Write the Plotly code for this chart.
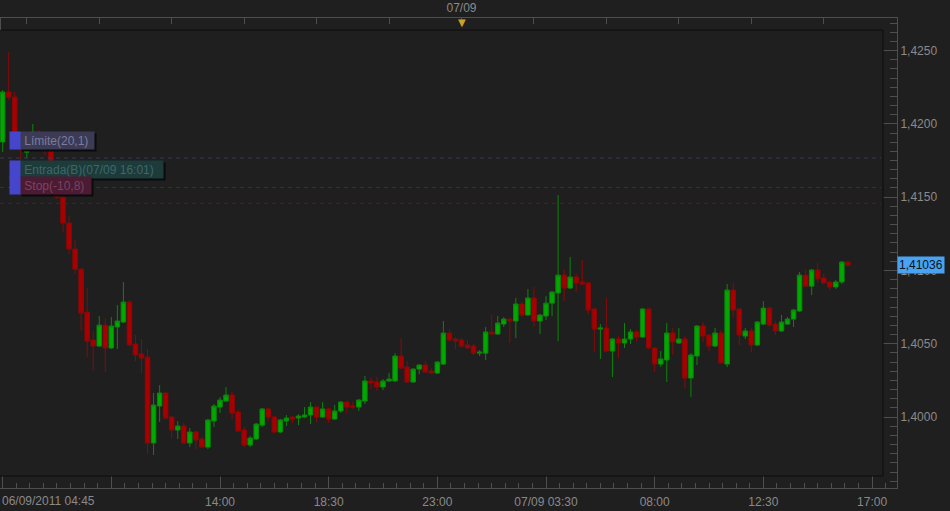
import pandas as pd
import plotly.graph_objects as go

# ---- data (15 min candles) ----
times = pd.date_range("2011-09-06 05:00", periods=141, freq="15min")

open_ = [1.41876,1.42217,1.42182,1.41903,1.41807,1.41876,1.41944,1.41855,1.41821,1.41719,
         1.41500,1.41323,1.41146,1.41009,1.40716,1.40525,1.40484,1.40627,1.40471,1.40614,
         1.40648,1.40784,1.40498,1.40430,1.40409,1.39823,1.40075,1.40164,1.40000,1.39911,
         1.39939,1.39823,1.39898,1.39850,1.39795,1.39973,1.40068,1.40109,1.40150,1.40034,
         1.39911,1.39809,1.39850,1.39945,1.40055,1.40000,1.39898,1.39973,1.40000,1.39993,
         1.40000,1.40014,1.40068,1.40000,1.40055,1.39986,1.40041,1.40102,1.40075,1.40068,
         1.40109,1.40246,1.40239,1.40205,1.40246,1.40246,1.40416,1.40341,1.40239,1.40327,
         1.40355,1.40314,1.40300,1.40361,1.40573,1.40532,1.40525,1.40491,1.40484,1.40436,
         1.40436,1.40580,1.40566,1.40634,1.40668,1.40655,1.40771,1.40696,1.40812,1.40655,
         1.40689,1.40777,1.40846,1.40968,1.40880,1.40955,1.40921,1.40914,1.40737,1.40600,
         1.40607,1.40450,1.40532,1.40505,1.40532,1.40580,1.40546,1.40737,1.40471,1.40361,
         1.40389,1.40573,1.40505,1.40532,1.40266,1.40416,1.40621,1.40559,1.40484,1.40573,
         1.40361,1.40866,1.40737,1.40552,1.40587,1.40491,1.40634,1.40743,1.40634,1.40587,
         1.40634,1.40668,1.40723,1.40968,1.40893,1.41003,1.40948,1.40921,1.40887,1.40921,
         1.41057]

high = [1.42230,1.42489,1.42217,1.41937,1.41910,1.41998,1.41957,1.41889,1.41855,1.41739,
        1.41514,1.41371,1.41207,1.41016,1.40880,1.40587,1.40689,1.40675,1.40682,1.40764,
        1.40921,1.40798,1.40559,1.40532,1.40464,1.40164,1.40218,1.40171,1.40007,1.39973,
        1.39959,1.39925,1.39905,1.39864,1.39986,1.40089,1.40136,1.40205,1.40171,1.40048,
        1.39932,1.39870,1.39959,1.40061,1.40061,1.40007,1.39986,1.40014,1.40007,1.40020,
        1.40068,1.40102,1.40075,1.40102,1.40061,1.40082,1.40109,1.40109,1.40102,1.40123,
        1.40280,1.40273,1.40273,1.40259,1.40300,1.40436,1.40539,1.40382,1.40334,1.40361,
        1.40382,1.40334,1.40382,1.40655,1.40600,1.40546,1.40539,1.40525,1.40498,1.40457,
        1.40614,1.40696,1.40689,1.40682,1.40675,1.40812,1.40791,1.40873,1.40887,1.40702,
        1.40825,1.40859,1.41514,1.41003,1.41091,1.40975,1.41071,1.40921,1.40743,1.40634,
        1.40812,1.40539,1.40552,1.40641,1.40600,1.40593,1.40743,1.40743,1.40477,1.40450,
        1.40641,1.40607,1.40607,1.40552,1.40436,1.40627,1.40648,1.40566,1.40607,1.40593,
        1.40907,1.40914,1.40743,1.40607,1.40607,1.40655,1.40791,1.40750,1.40655,1.40696,
        1.40682,1.40737,1.40989,1.41009,1.41009,1.41050,1.40975,1.40928,1.40934,1.41064,
        1.41064]

low = [1.41807,1.42162,1.41889,1.41753,1.41766,1.41855,1.41821,1.41787,1.41719,1.41487,
       1.41262,1.41112,1.40975,1.40587,1.40409,1.40314,1.40477,1.40307,1.40464,1.40464,
       1.40641,1.40484,1.40382,1.40300,1.39748,1.39741,1.39966,1.39980,1.39857,1.39850,
       1.39816,1.39795,1.39782,1.39789,1.39782,1.39932,1.40027,1.40102,1.39986,1.39898,
       1.39795,1.39795,1.39843,1.39932,1.39973,1.39891,1.39891,1.39939,1.39959,1.39945,
       1.39993,1.39952,1.39966,1.39993,1.39959,1.39980,1.40027,1.40027,1.40055,1.40041,
       1.40089,1.40191,1.40177,1.40184,1.40239,1.40239,1.40327,1.40232,1.40232,1.40293,
       1.40300,1.40293,1.40293,1.40355,1.40512,1.40464,1.40471,1.40464,1.40423,1.40416,
       1.40389,1.40559,1.40559,1.40614,1.40505,1.40539,1.40682,1.40689,1.40614,1.40566,
       1.40662,1.40689,1.40518,1.40791,1.40873,1.40853,1.40900,1.40702,1.40443,1.40396,
       1.40443,1.40273,1.40402,1.40471,1.40498,1.40518,1.40539,1.40464,1.40307,1.40341,
       1.40239,1.40423,1.40498,1.40198,1.40136,1.40355,1.40512,1.40450,1.40477,1.40361,
       1.40341,1.40682,1.40491,1.40532,1.40443,1.40484,1.40627,1.40614,1.40559,1.40580,
       1.40627,1.40614,1.40716,1.40887,1.40832,1.40914,1.40907,1.40866,1.40873,1.40907,
       1.41030]

close = [1.42217,1.42182,1.41923,1.41835,1.41889,1.41944,1.41855,1.41821,1.41739,1.41500,
         1.41323,1.41146,1.41009,1.40709,1.40518,1.40484,1.40627,1.40471,1.40621,1.40655,
         1.40784,1.40491,1.40423,1.40402,1.39823,1.40082,1.40164,1.39993,1.39911,1.39939,
         1.39823,1.39898,1.39843,1.39795,1.39980,1.40075,1.40116,1.40150,1.40027,1.39905,
         1.39809,1.39857,1.39952,1.40055,1.40000,1.39898,1.39980,1.39993,1.39986,1.40007,
         1.40014,1.40068,1.40000,1.40055,1.39986,1.40041,1.40102,1.40068,1.40068,1.40116,
         1.40246,1.40232,1.40205,1.40246,1.40259,1.40416,1.40334,1.40239,1.40327,1.40355,
         1.40307,1.40300,1.40375,1.40573,1.40525,1.40518,1.40484,1.40471,1.40436,1.40443,
         1.40580,1.40566,1.40641,1.40668,1.40655,1.40771,1.40696,1.40812,1.40655,1.40696,
         1.40777,1.40853,1.40968,1.40880,1.40955,1.40914,1.40907,1.40730,1.40600,1.40607,
         1.40450,1.40532,1.40505,1.40532,1.40580,1.40546,1.40737,1.40471,1.40361,1.40396,
         1.40573,1.40512,1.40532,1.40266,1.40423,1.40621,1.40552,1.40484,1.40573,1.40368,
         1.40866,1.40730,1.40559,1.40587,1.40491,1.40648,1.40743,1.40627,1.40587,1.40648,
         1.40668,1.40730,1.40968,1.40893,1.41003,1.40941,1.40914,1.40887,1.40921,1.41057,
         1.41036]

entry_price = 1.41566
limit_pips = 20.1
stop_pips = -10.8
limit_price = entry_price + limit_pips / 10000
stop_price = entry_price + stop_pips / 10000

x_tickvals = ["2011-09-06 05:00", "2011-09-06 09:30", "2011-09-06 14:00", "2011-09-06 18:30",
              "2011-09-06 23:00", "2011-09-07 03:30", "2011-09-07 08:00", "2011-09-07 12:30",
              "2011-09-07 17:00"]
x_ticktext = ["", "", "14:00", "18:30", "23:00", "07/09 03:30", "08:00", "12:30", "17:00"]
first_label = "06/09/2011 04:45"

top_tickvals = list(pd.date_range("2011-09-06 06:00", "2011-09-07 18:00", freq="3h"))
top_ticktext = ["07/09" if t.hour == 0 else "" for t in top_tickvals]
day_marker = pd.Timestamp("2011-09-07 00:00")

# ---- styling ----
BG = "#1f1f1f"
FONT = "Liberation Sans, Arial, sans-serif"
TXT = "#8a8a8a"
W, H = 950, 511
ML, MR, MT, MB = 0, 53, 18, 23
PW, PH = W - ML - MR, H - MT - MB


def px_to_paper_y(py):
    return (H - MB - py) / PH


def px_to_paper_x(px):
    return (px - ML) / PW


fig = go.Figure()
fig.add_trace(go.Candlestick(
    x=times, open=open_, high=high, low=low, close=close,
    increasing=dict(line=dict(color="#0b860b", width=1), fillcolor="#00a800"),
    decreasing=dict(line=dict(color="#8c0808", width=1), fillcolor="#a80000"),
    whiskerwidth=0, hoverinfo="skip", showlegend=False,
))
# invisible helper so the top time axis is drawn
fig.add_trace(go.Scatter(x=[times[0]], y=[close[0]], xaxis="x2", yaxis="y",
                         mode="markers", marker=dict(opacity=0), hoverinfo="skip",
                         showlegend=False))

xrange_ = ["2011-09-06 04:53:24", "2011-09-07 18:02:00"]

fig.update_layout(
    width=W, height=H,
    margin=dict(l=ML, r=MR, t=MT, b=MB, pad=0),
    paper_bgcolor=BG, plot_bgcolor=BG,
    separators=",.",
    font=dict(family=FONT, size=12, color=TXT),
    hovermode=False,
    showlegend=False,
    boxgap=0.25, boxgroupgap=0.0,
    xaxis=dict(
        type="date", range=xrange_, rangeslider=dict(visible=False),
        showline=True, linecolor="#4e4e4e", linewidth=1,
        ticks="inside", ticklen=12, tickcolor="#4e4e4e", tickwidth=1,
        tickmode="array", tickvals=x_tickvals, ticktext=x_ticktext,
        tickfont=dict(family=FONT, size=12, color=TXT), ticklabelstandoff=3,
        minor=dict(ticks="inside", ticklen=5, tickcolor="#4e4e4e",
                   dtick=2025000, tick0="2011-09-06 05:00", showgrid=False),
        showgrid=False, zeroline=False, automargin=False, fixedrange=True,
    ),
    xaxis2=dict(
        type="date", overlaying="x", side="top", range=xrange_,
        showline=True, linecolor="#4e4e4e", linewidth=1,
        ticks="inside", ticklen=6, tickcolor="#4e4e4e",
        tickmode="array", tickvals=top_tickvals, ticktext=top_ticktext,
        tickfont=dict(family=FONT, size=12, color=TXT),
        showgrid=False, zeroline=False, automargin=False, fixedrange=True,
    ),
    yaxis=dict(
        side="right", range=[1.39516, 1.42722],
        showline=True, linecolor="#4e4e4e", linewidth=1,
        ticks="inside", ticklen=14, tickcolor="#4e4e4e",
        tick0=1.4, dtick=0.005, tickformat=".4f",
        tickfont=dict(family=FONT, size=12, color=TXT),
        minor=dict(ticks="inside", ticklen=7, tickcolor="#4e4e4e",
                   tick0=1.4, dtick=0.000625, showgrid=False),
        showgrid=False, zeroline=False, automargin=False, fixedrange=True,
    ),
)

shapes = []
# black inner frame of the price area
for x0, y0, x1, y1 in [(0, 30, 883, 30), (883, 30, 883, 476), (0, 476, 883, 476)]:
    shapes.append(dict(type="line", xref="paper", yref="paper",
                       x0=px_to_paper_x(x0), x1=px_to_paper_x(x1),
                       y0=px_to_paper_y(y0), y1=px_to_paper_y(y1),
                       line=dict(color="#0c0c0c", width=1)))
# thin gray left edge of the top time strip
shapes.append(dict(type="line", xref="paper", yref="paper",
                   x0=px_to_paper_x(0.5), x1=px_to_paper_x(0.5),
                   y0=px_to_paper_y(18), y1=px_to_paper_y(30),
                   line=dict(color="#4e4e4e", width=1)))
# order lines
orders = [
    ("Límite(20,1)", limit_price, "#3b3b55", "#7c7c9e", "#3a3a54", 72),
    ("Entrada(B)(07/09 16:01)", entry_price, "#1d3b3b", "#3e6868", "#1f3f38", 141),
    ("Stop(-10,8)", stop_price, "#4a1b33", "#7e4262", "#4f2234", 69),
]
for _, price, _, _, lc, _ in orders:
    shapes.append(dict(type="line", xref="paper", yref="y",
                       x0=0, x1=px_to_paper_x(881), y0=price, y1=price,
                       line=dict(color=lc, width=1, dash="4px,4px")))
fig.update_layout(shapes=shapes)

ann = []
for text, price, bg, fc, _, w in orders:
    # drop shadow (empty box)
    ann.append(dict(xref="paper", yref="y", x=px_to_paper_x(19), y=price,
                    xanchor="left", yanchor="bottom", xshift=2, yshift=6,
                    text="&nbsp;", showarrow=False, align="left",
                    width=w, height=15, borderpad=1, bgcolor="#0b0b0b",
                    font=dict(family=FONT, size=12, color="#0b0b0b")))
    ann.append(dict(xref="paper", yref="y", x=px_to_paper_x(19), y=price,
                    xanchor="left", yanchor="bottom", yshift=8,
                    text="&nbsp;" + text, showarrow=False, align="left",
                    width=w, height=15, borderpad=1, bgcolor=bg,
                    font=dict(family=FONT, size=12, color=fc)))
    ann.append(dict(xref="paper", yref="y", x=px_to_paper_x(9), y=price,
                    xanchor="left", yanchor="bottom", yshift=8,
                    text="&nbsp;", showarrow=False, width=8, height=15,
                    borderpad=1, bgcolor="#4646cc",
                    font=dict(family=FONT, size=12, color="#4646cc")))

# first time label (left aligned at chart start)
ann.append(dict(xref="x", yref="paper", x=times[0], y=px_to_paper_y(501),
                xanchor="left", yanchor="middle", xshift=-3, text=first_label,
                showarrow=False, font=dict(family=FONT, size=12, color=TXT)))
# day marker triangle on the top axis
ann.append(dict(xref="x", yref="paper", x=day_marker, y=px_to_paper_y(23),
                xanchor="center", yanchor="middle", text="▼", showarrow=False,
                font=dict(family="DejaVu Sans", size=10, color="#c9a227")))
# current price label
ann.append(dict(xref="paper", yref="y", x=1.0, y=close[-1], xanchor="left",
                yanchor="middle", text=f"{close[-1]:.5f}".replace(".", ","),
                showarrow=False, bgcolor="#4aa3f2", borderpad=1,
                font=dict(family=FONT, size=12, color="#0b1420")))
fig.update_layout(annotations=ann)

fig.write_html("out.html", config={"displayModeBar": False},
               post_script="document.body.style.margin='0px';document.body.style.background='#1f1f1f';")
